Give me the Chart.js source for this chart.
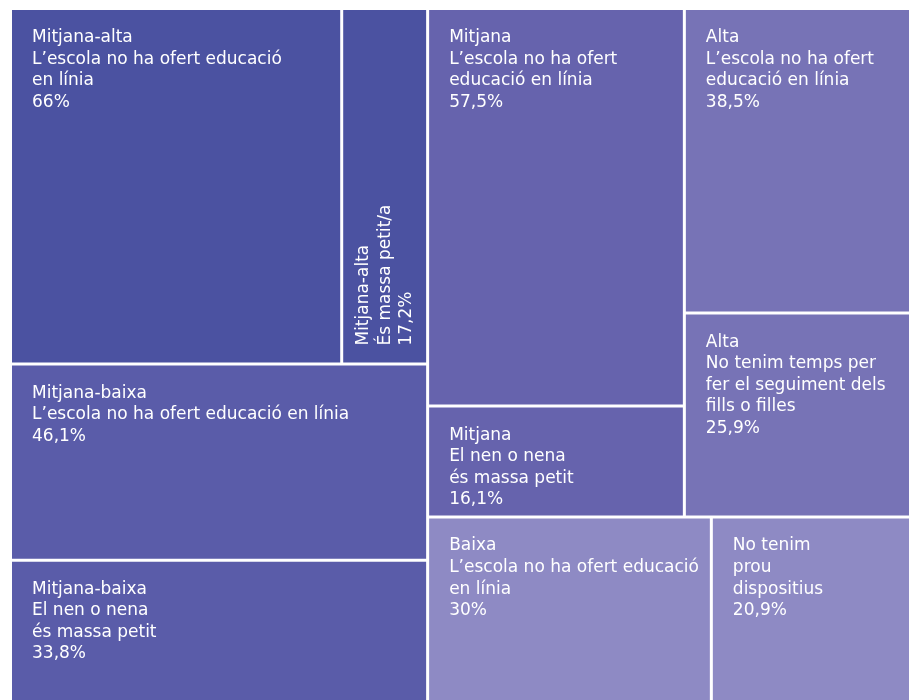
<!DOCTYPE html>
<html>
<head>
<meta charset="utf-8">
<script src="https://cdn.jsdelivr.net/npm/chart.js@4"></script>
<style>
  html, body { margin: 0; padding: 0; background: #ffffff; }
  #wrap { width: 915px; height: 700px; position: relative; }
</style>
</head>
<body>
<div id="wrap"><canvas id="chartcanvas"></canvas></div>
<script>
// groups (income level) and their colours
const groups = ["Mitjana-alta", "Mitjana-baixa", "Mitjana", "Alta", "Baixa"];
const groupColors = ["#4b52a1", "#5a5ca9", "#6663ad", "#7773b6", "#8e8ac4"];

// one entry per cell ("en línia" is kept together with a no-break space)
const cellGroup = [0, 0, 1, 1, 2, 2, 3, 3, 4, 4];
const cellTitles = [
  "Mitjana-alta", "Mitjana-alta",
  "Mitjana-baixa", "Mitjana-baixa",
  "Mitjana", "Mitjana",
  "Alta", "Alta",
  "Baixa", "",
];
const cellLabels = [
  "L’escola no ha ofert educació en\u00a0línia",
  "És massa petit/a",
  "L’escola no ha ofert educació en\u00a0línia",
  "El nen o nena\nés massa petit",
  "L’escola no ha ofert educació en\u00a0línia",
  "El nen o nena\nés massa petit",
  "L’escola no ha ofert educació en\u00a0línia",
  "No tenim temps per fer el seguiment dels fills o filles",
  "L’escola no ha ofert educació en\u00a0línia",
  "No tenim\nprou\ndispositius",
];
const cellValues = [66, 17.2, 46.1, 33.8, 57.5, 16.1, 38.5, 25.9, 30, 20.9];

// layout box in axis units (1 unit = 1 px), bottom of the map is below the canvas
const W = 897, H = 694, VISIBLE_H = 690, GAP = 3;

// d3-style squarify (golden ratio)
function squarify(values, x0, y0, x1, y1) {
  const ratio = (1 + Math.sqrt(5)) / 2;
  const rects = [];
  let total = values.reduce((a, b) => a + b, 0);
  let i0 = 0;
  const n = values.length;
  while (i0 < n) {
    const dx = x1 - x0, dy = y1 - y0;
    let i1 = i0;
    let sum = values[i1++];
    let minV = sum, maxV = sum;
    const alpha = Math.max(dy / dx, dx / dy) / (total * ratio);
    let beta = sum * sum * alpha;
    let minRatio = Math.max(maxV / beta, beta / minV);
    for (; i1 < n; i1++) {
      const v = values[i1];
      const s = sum + v;
      const mn = Math.min(minV, v), mx = Math.max(maxV, v);
      beta = s * s * alpha;
      const r = Math.max(mx / beta, beta / mn);
      if (r > minRatio) break;
      sum = s; minV = mn; maxV = mx; minRatio = r;
    }
    const row = values.slice(i0, i1);
    if (dx < dy) {
      const h = i1 < n ? dy * sum / total : dy;
      let x = x0;
      row.forEach((v) => { const w = dx * v / sum; rects.push([x, y0, x + w, y0 + h]); x += w; });
      y0 += h;
    } else {
      const w = i1 < n ? dx * sum / total : dx;
      let y = y0;
      row.forEach((v) => { const h = dy * v / sum; rects.push([x0, y, x0 + w, y + h]); y += h; });
      x0 += w;
    }
    total -= sum;
    i0 = i1;
  }
  return rects;
}

// group level, then cells inside each group
const groupSums = groups.map((g, gi) =>
  cellValues.filter((v, i) => cellGroup[i] === gi).reduce((a, b) => a + b, 0));
const groupRects = squarify(groupSums, 0, 0, W, H);
const cellRects = [];
groups.forEach((g, gi) => {
  const idx = cellValues.map((v, i) => i).filter((i) => cellGroup[i] === gi);
  const r = groupRects[gi];
  const sub = squarify(idx.map((i) => cellValues[i]), r[0], r[1], r[2], r[3]);
  idx.forEach((i, k) => { cellRects[i] = sub[k]; });
});

// inset inner edges to leave white gaps
const half = GAP / 2;
const shrunk = cellRects.map(([x0, y0, x1, y1]) => [
  x0 > 0.5 ? x0 + half : x0,
  y0 > 0.5 ? y0 + half : y0,
  x1 < W - 0.5 ? x1 - half : x1,
  y1 < H - 0.5 ? y1 - half : y1,
]);

const datasets = shrunk.map(([x0, y0, x1, y1], i) => ({
  label: cellTitles[i] + " " + cellLabels[i],
  data: [
    { x: x0, y: y0 }, { x: x1, y: y0 }, { x: x1, y: y1 },
    { x: x0, y: y1 }, { x: x0, y: y0 },
  ],
  showLine: true,
  fill: "shape",
  backgroundColor: groupColors[cellGroup[i]],
  borderColor: groupColors[cellGroup[i]],
  borderWidth: 0,
  pointRadius: 0,
  tension: 0,
}));

const FONT = '17px "DejaVu Sans"';
const LINE_H = 21.6;
const PAD_L = 20;
const PAD_R = 10;
const FIRST_BASE = 32;

function fmt(v) {
  return String(v).replace(".", ",") + "%";
}

function wrap(ctx, text, maxW) {
  const out = [];
  text.split("\n").forEach((para) => {
    let line = "";
    para.split(" ").forEach((word) => {
      const test = line ? line + " " + word : word;
      if (line && ctx.measureText(test).width > maxW) {
        out.push(line);
        line = word;
      } else {
        line = test;
      }
    });
    out.push(line);
  });
  return out;
}

const cellLabelPlugin = {
  id: "cellLabels",
  afterDatasetsDraw(chart) {
    const { ctx, chartArea } = chart;
    const xs = chart.scales.x, ys = chart.scales.y;
    ctx.save();
    ctx.beginPath();
    ctx.rect(chartArea.left, chartArea.top, chartArea.width, chartArea.height);
    ctx.clip();
    ctx.font = FONT;
    ctx.fillStyle = "#ffffff";
    ctx.textAlign = "left";
    ctx.textBaseline = "alphabetic";
    shrunk.forEach(([x0, y0, x1, y1], i) => {
      const left = xs.getPixelForValue(x0), right = xs.getPixelForValue(x1);
      const top = ys.getPixelForValue(y0), bottom = ys.getPixelForValue(y1);
      const w = right - left, h = bottom - top;
      const maxW = w - PAD_L - PAD_R;
      const words = (cellTitles[i] + " " + cellLabels[i]).split(/[ \n]+/);
      const tooNarrow = words.some((wd) => ctx.measureText(wd).width > maxW);
      let lines = [];
      if (cellTitles[i]) lines.push(cellTitles[i]);
      if (tooNarrow && h > w) {
        lines = lines.concat(wrap(ctx, cellLabels[i], h - PAD_L - PAD_R), [fmt(cellValues[i])]);
        ctx.save();
        ctx.translate(left, ys.getPixelForValue(Math.min(y1, VISIBLE_H)) - 17);
        ctx.rotate(-Math.PI / 2);
        lines.forEach((ln, k) => ctx.fillText(ln, 0, 25 + k * LINE_H));
        ctx.restore();
      } else {
        lines = lines.concat(wrap(ctx, cellLabels[i], maxW), [fmt(cellValues[i])]);
        lines.forEach((ln, k) => ctx.fillText(ln, left + PAD_L, top + FIRST_BASE + k * LINE_H));
      }
    });
    ctx.restore();
  },
};

const config = {
  type: "scatter",
  data: { datasets },
  options: {
    responsive: true,
    maintainAspectRatio: false,
    animation: false,
    events: [],
    layout: { padding: { left: 12, right: 6, top: 10, bottom: 0 } },
    scales: {
      x: { type: "linear", min: 0, max: W, display: false },
      y: { type: "linear", min: 0, max: VISIBLE_H, reverse: true, display: false },
    },
    plugins: {
      legend: { display: false },
      tooltip: { enabled: false },
    },
  },
  plugins: [cellLabelPlugin],
};

const chart = new Chart(document.getElementById("chartcanvas"), config);
</script>
</body>
</html>
